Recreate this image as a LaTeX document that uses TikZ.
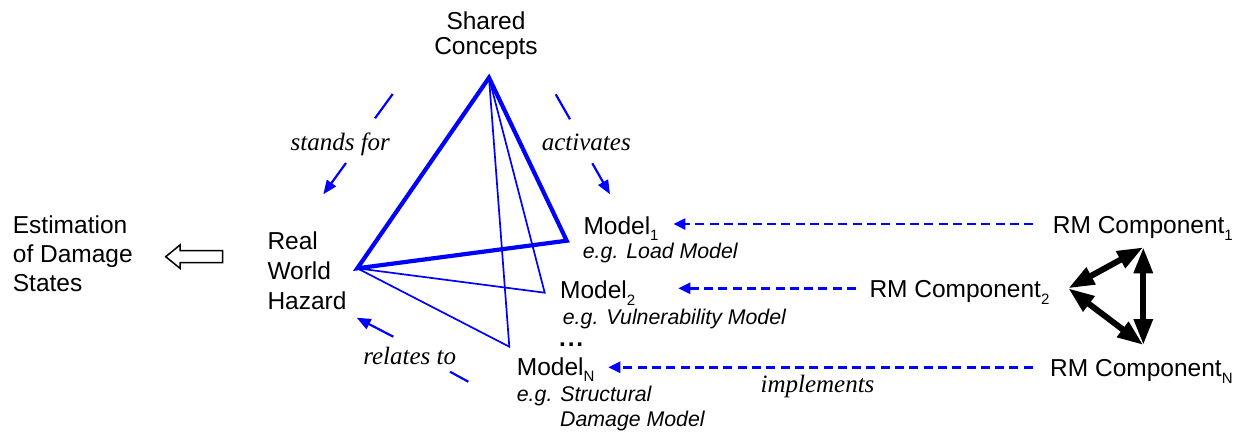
\documentclass[tikz,border=0pt]{standalone}
\usepackage{fontspec}
\setmainfont{Liberation Sans}
\newfontfamily\tmsfont{Liberation Serif}
\usetikzlibrary{arrows.meta}
\newcommand\subx[1]{\raisebox{-6.7pt}{\fontsize{15}{15}\selectfont #1}}
\newcommand\lstack[1]{\begin{tabular}[t]{@{}l@{}}#1\end{tabular}}
\newcommand\cstack[1]{\begin{tabular}[t]{@{}c@{}}#1\end{tabular}}
\tikzset{
  txt/.style={inner sep=0pt, anchor=base west, font=\fontsize{24.5}{29}\selectfont},
  desc/.style={inner sep=0pt, anchor=base west, font=\fontsize{21.3}{25}\selectfont\itshape},
  rel/.style={inner sep=0pt, anchor=base, font=\tmsfont\fontsize{25}{30}\selectfont\itshape},
  relline/.style={blue, line width=2.2pt},
  relarr/.style={blue, line width=2.2pt, -{Triangle[length=14pt,width=11pt]}},
  dasharr/.style={blue, line width=2.6pt, dash pattern=on 9pt off 5.3pt, -{Triangle[length=12pt,width=11pt]}},
  thicktri/.style={blue, line width=4.2pt, line join=miter},
  thinln/.style={blue, line width=1.7pt, line join=miter},
  dblarr/.style={black, line width=6pt, {Triangle[length=26pt,width=18pt]}-{Triangle[length=26pt,width=18pt]}},
  hollow/.style={draw=black, line width=1.5pt, fill=white, line join=miter},
}
\begin{document}
\begin{tikzpicture}[x=1pt, y=-1pt]
\useasboundingbox (0,0) rectangle (1245,432);

% texts
\node[txt, anchor=base, font=\fontsize{24.5}{24.7}\selectfont] (shared) at (486,29.3) {\cstack{Shared\\Concepts}};
\node[txt, font=\fontsize{24.5}{30}\selectfont] (real) at (267.3,249.3) {\lstack{Real\\World\\Hazard}};
\node[txt, font=\fontsize{24.5}{29.2}\selectfont] (est) at (12.7,233.3) {\lstack{Estimation\\of Damage\\States}};

\node[txt] (m1) at (583.3,234) {Model\subx{1}};
\node[desc] (m1d) at (582.7,258.3) {e.g. Load Model};
\node[txt] (m2) at (560,298.3) {Model\subx{2}};
\node[desc] (m2d) at (562.7,324.3) {e.g. Vulnerability Model};
\node[txt] (dots) at (559,346) {\textbf{.\kern1.8pt.\kern1.8pt.}};
\node[txt] (mN) at (516.7,375) {Model\subx{N}};
\node[desc] (mNd) at (516.7,401.7) {\lstack{e.g. Structural\\\hspace*{43.3pt}Damage Model}};

\node[txt] (rm1) at (1052.7,233.3) {RM Component\subx{1}};
\node[txt] (rm2) at (869.3,297.3) {RM Component\subx{2}};
\node[txt] (rmN) at (1050,376.7) {RM Component\subx{N}};

% triangle of concepts
\coordinate (apex) at (489,77.7);
\coordinate (lv) at (357.3,268.3);
\coordinate (v1) at (566.7,240.7);
\coordinate (v2) at (544.7,292.7);
\coordinate (vN) at (509.3,346.7);
\draw[thinln] (apex) -- (v2) -- (lv);
\draw[thinln] (apex) -- (vN) -- (lv);
\draw[thicktri] (apex) -- (lv) -- (v1) -- cycle;

% stands for
\coordinate (sfa) at (392.7,94);
\coordinate (sfb) at (375,118.3);
\coordinate (sfc) at (346,163);
\coordinate (sfd) at (323.3,194.3);
\draw[relline] (sfa) -- (sfb);
\draw[relarr] (sfc) -- (sfd);
\node[rel] (sflab) at (340.3,150) {stands for};

% activates
\coordinate (aca) at (555.7,94.3);
\coordinate (acb) at (570,119.3);
\coordinate (acc) at (592.3,163.3);
\coordinate (acd) at (610,194.3);
\draw[relline] (aca) -- (acb);
\draw[relarr] (acc) -- (acd);
\node[rel] (aclab) at (586.3,150) {activates};

% relates to
\coordinate (rta) at (468.3,381.7);
\coordinate (rtb) at (450,371.7);
\coordinate (rtc) at (393.3,336.7);
\coordinate (rtd) at (356.7,317.7);
\draw[relline] (rta) -- (rtb);
\draw[relarr] (rtc) -- (rtd);
\node[rel] (rtlab) at (409.7,364) {relates to};

% implements arrows
\draw[dasharr, shorten <=19.4pt] (rm1.west |- 0,224) -- (673.3,224);
\draw[dasharr, shorten <=13.3pt] (rm2.west |- 0,288.3) -- (678.3,288.3);
\draw[dasharr, shorten <=17.3pt] (rmN.west |- 0,367.3) -- (608.3,367.3);
\node[rel] (implab) at (817.5,392) {implements};

% RM triangle
\coordinate (t1) at (1143.3,247.3);
\coordinate (t2) at (1068.3,288.3);
\coordinate (tN) at (1143.3,345);
\draw[dblarr] (t2) -- (t1);
\draw[dblarr] (t2) -- (tN);
\draw[dblarr] (t1) -- (tN);

% hollow arrow to estimation
\draw[hollow] (165.7,256.7) -- (180,245) -- (180,250.7) -- (222.7,250.7) -- (222.7,262.7) -- (180,262.7) -- (180,268.3) -- cycle;
\end{tikzpicture}
\end{document}
